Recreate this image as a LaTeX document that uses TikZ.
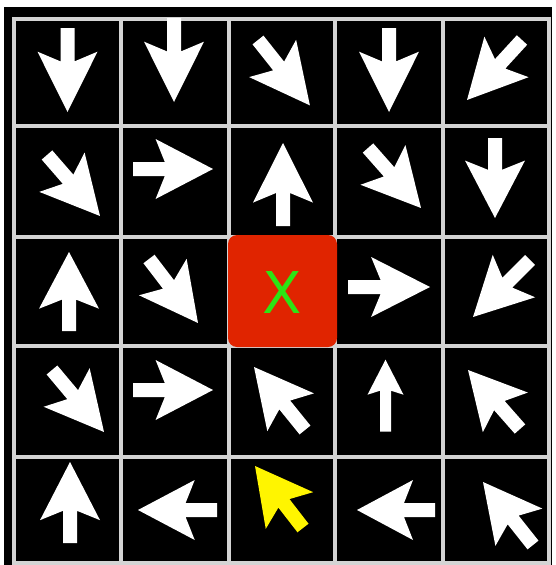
\documentclass[tikz,border=0pt]{standalone}
\usepackage{fontspec}
\newfontfamily\xfont{DejaVu Sans}
\definecolor{gridgray}{RGB}{212,212,212}
\definecolor{cellred}{RGB}{224,36,0}
\definecolor{xgreen}{RGB}{45,228,20}
\definecolor{arryellow}{RGB}{255,245,0}
\tikzset{
  gridline/.style={draw=gridgray, line width=3.5pt, line cap=rect},
  arrowfill/.style={fill=#1},
}
% tail x, tail y, tip x, tip y (image pixels, y downwards), colour
\newcommand\garrow[5]{%
  \pgfmathsetmacro\gdx{#3-#1}%
  \pgfmathsetmacro\gdy{#4-#2}%
  \pgfmathsetmacro\gang{atan2(-\gdy,\gdx)}%
  \pgfmathsetmacro\glen{veclen(\gdx,\gdy)/83}%
  \fill[arrowfill=#5, shift={(#1,#2)}, rotate=\gang, xscale=\glen]
    (0,7) -- (33,7) -- (23.4,30) -- (83,0) -- (23.4,-30) -- (33,-7) -- (0,-7) -- cycle;%
}
\begin{document}
\begin{tikzpicture}[x=1pt,y=-1pt]
\useasboundingbox (0,0) rectangle (555,565);
\fill[white] (0,0) rectangle (555,565);
\fill[black] (4,7) rectangle (552,565);
% grid
\foreach \gx in {14,121,229,335,443,549} \draw[gridline] (\gx,19) -- (\gx,563);
\foreach \gy in {19,126,237,346,457,563} \draw[gridline] (14,\gy) -- (549,\gy);
% goal cell
\fill[cellred, rounded corners=9pt] (228,235) rectangle (337,347);
\node[text=xgreen, font=\xfont\fontsize{57.6}{60}\selectfont, inner sep=0pt] (goal) at (282,293) {X};
% row 0
\garrow{67.5}{28}{67.5}{112}{white}
\garrow{174}{18}{174}{102}{white}
\garrow{258}{40}{310}{105.5}{white}
\garrow{389}{28}{389}{112}{white}
\garrow{522}{40}{467}{100}{white}
% row 1
\garrow{47}{155}{100}{216}{white}
\garrow{133}{169}{213}{169}{white}
\garrow{283}{226}{283}{143}{white}
\garrow{368}{148}{421}{208}{white}
\garrow{495}{138}{495}{218}{white}
% row 2
\garrow{69}{331}{69}{252}{white}
\garrow{149}{259}{198}{323}{white}
\garrow{348}{287}{430}{287}{white}
\garrow{530}{260}{473}{317}{white}
% row 3
\garrow{52}{370}{104}{432}{white}
\garrow{133}{390}{213}{390}{white}
\garrow{305}{430}{254}{367}{white}
\fill[white, shift={(385.5,431.7)}, rotate=90]
  (0,5.5) -- (41,5.5) -- (37,18) -- (72,0) -- (37,-18) -- (41,-5.5) -- (0,-5.5) -- cycle;
\garrow{520}{429}{468}{370}{white}
% row 4
\garrow{70}{543}{70}{462}{white}
\garrow{217}{510}{138}{510}{white}
\garrow{303}{528}{255}{466}{arryellow}
\garrow{435}{510}{357}{510}{white}
\garrow{533}{545}{483}{482}{white}
\end{tikzpicture}
\end{document}
